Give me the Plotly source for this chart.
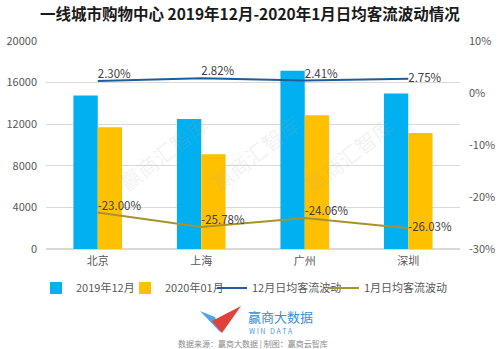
import plotly.graph_objects as go

# Tier-1 city shopping malls: average daily footfall, Dec 2019 vs Jan 2020
cities = ["北京", "上海", "广州", "深圳"]
flow_dec = [14750, 12500, 17150, 14950]
flow_jan = [11700, 9100, 12850, 11150]
change_dec = [0.0230, 0.0282, 0.0241, 0.0275]
change_jan = [-0.2300, -0.2578, -0.2406, -0.2603]

left_ticks = [0, 4000, 8000, 12000, 16000, 20000]
left_tick_text = ["0", "4000", "8000", "12000", "16000", "20000"]
right_ticks = [-0.30, -0.20, -0.10, 0.0, 0.10]
right_tick_text = ["-30%", "-20%", "-10%", "0%", "10%"]

W, H = 500, 349
ML, MR, MT, MB = 46, 40, 41, 100
PW, PH = W - ML - MR, H - MT - MB

FONT = "Noto Sans CJK SC, Noto Sans, sans-serif"
GREY = "#595959"


def px(x):
    return (x - ML) / PW


def py(y):
    return (H - MB - y) / PH


def pct_labels(vals):
    return [f"{v * 100:.2f}%" for v in vals]


LABEL_POS = ["top right", "top right", "top right", "middle right"]
LABEL_FONT = dict(size=11.5, color="#404040", family=FONT)

fig = go.Figure()
fig.add_trace(go.Bar(x=cities, y=flow_dec, name="2019年12月", marker_color="#00B0F0",
                     marker_line_width=0, legend="legend"))
fig.add_trace(go.Bar(x=cities, y=flow_jan, name="2020年01月", marker_color="#FFC000",
                     marker_line_width=0, legend="legend2"))
fig.add_trace(go.Scatter(x=cities, y=change_dec, name="12月日均客流波动", yaxis="y2",
                         mode="lines+text", line=dict(color="#1F5C99", width=2),
                         text=pct_labels(change_dec), textposition=LABEL_POS,
                         textfont=LABEL_FONT, legend="legend3"))
fig.add_trace(go.Scatter(x=cities, y=change_jan, name="1月日均客流波动", yaxis="y2",
                         mode="lines+text", line=dict(color="#A8922C", width=2),
                         text=pct_labels(change_jan), textposition=LABEL_POS,
                         textfont=LABEL_FONT, legend="legend4"))

annotations = [
    dict(text="<b>一线城市购物中心 2019年12月-2020年1月日均客流波动情况</b>",
         x=px(250), y=py(13), xref="paper", yref="paper", showarrow=False,
         font=dict(size=15.5, color="#1a1a1a", family=FONT), xanchor="center", yanchor="middle"),
]
# repeated faint watermark
for wx, wy in [(110, 153), (255, 153), (402, 155)]:
    annotations.append(dict(text="赢商汇智库", x=px(wx), y=py(wy), xref="paper", yref="paper",
                            showarrow=False, textangle=-38,
                            font=dict(size=21, color="rgba(170,170,170,0.16)", family=FONT)))
# brand mark text and source line
annotations += [
    dict(text="赢商大数据", x=px(246), y=py(316), xref="paper", yref="paper", showarrow=False,
         xanchor="left", yanchor="middle", font=dict(size=13, color="#3B8FD4", family=FONT)),
    dict(text="W I N   D A T A", x=px(247), y=py(331), xref="paper", yref="paper", showarrow=False,
         xanchor="left", yanchor="middle", font=dict(size=7, color="#4A9BD8", family=FONT)),
    dict(text="数据来源：赢商大数据 | 制图：赢商云智库", x=px(253), y=py(343), xref="paper",
         yref="paper", showarrow=False, xanchor="center", yanchor="middle",
         font=dict(size=8, color="#8c8c8c", family=FONT)),
]


def poly(points):
    return "M " + " L ".join(f"{px(x):.4f},{py(y):.4f}" for x, y in points) + " Z"


shapes = [
    dict(type="path", xref="paper", yref="paper", path=poly([(200, 311), (215, 317), (221, 333)]),
         fillcolor="#4FA6DE", line_width=0),
    dict(type="path", xref="paper", yref="paper", path=poly([(212, 321), (241, 306), (222, 333)]),
         fillcolor="#E0413C", line_width=0),
]


def legend_at(text_left):
    return dict(orientation="h", x=px(text_left - 40), xanchor="left", y=py(288),
                yanchor="middle", font=dict(size=11, color=GREY), itemwidth=30,
                bgcolor="rgba(0,0,0,0)")


fig.update_layout(
    width=W, height=H,
    margin=dict(l=ML, r=MR, t=MT, b=MB, autoexpand=False),
    paper_bgcolor="white", plot_bgcolor="white",
    font=dict(family=FONT, size=11, color=GREY),
    barmode="group", bargap=0.53, bargroupgap=0,
    xaxis=dict(showgrid=False, showline=False, ticks="", tickfont=dict(size=11, color=GREY),
               ticklabelstandoff=4, automargin=False),
    yaxis=dict(range=[0, 20000], tickvals=left_ticks, ticktext=left_tick_text, showgrid=True,
               gridcolor="#D9D9D9", gridwidth=1, zeroline=True, zerolinecolor="#D9D9D9",
               showline=False, tickfont=dict(size=11, color=GREY), ticklabelstandoff=8,
               automargin=False),
    yaxis2=dict(range=[-0.30, 0.10], tickvals=right_ticks, ticktext=right_tick_text,
                overlaying="y", side="right", showgrid=False, zeroline=False, showline=False,
                tickfont=dict(size=11, color=GREY), ticklabelstandoff=8, automargin=False),
    legend=legend_at(76),
    legend2=legend_at(165),
    legend3=legend_at(252),
    legend4=legend_at(364),
    annotations=annotations,
    shapes=shapes,
    showlegend=True,
)

fig.write_html("out.html")
